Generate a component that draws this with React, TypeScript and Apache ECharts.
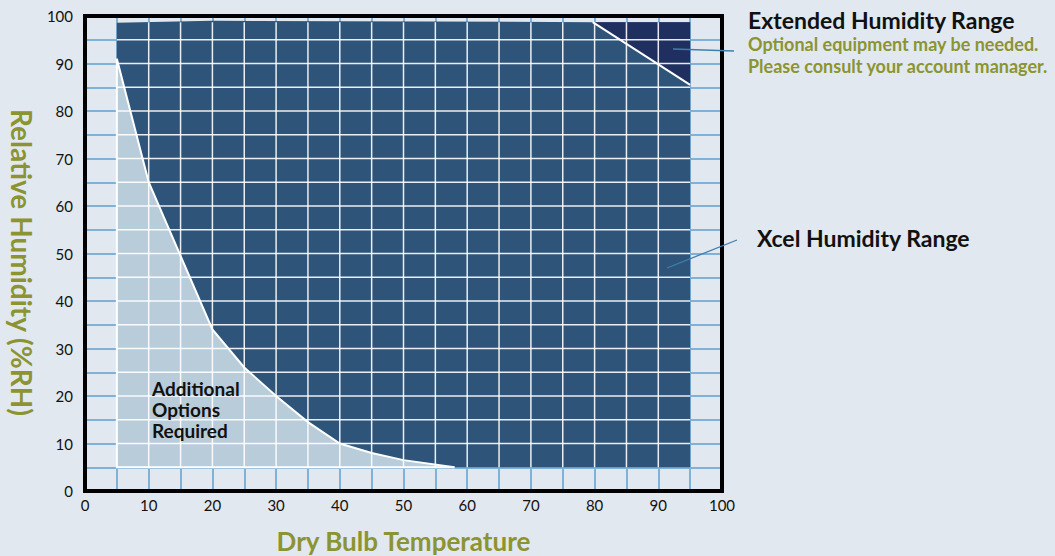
import React, { useEffect, useRef } from "react";
import * as echarts from "echarts";

// Boundary between the Xcel range and the "Additional Options Required" area
const boundaryCurve: number[][] = [
  [5, 91], [10, 65], [15, 49.5], [20, 34], [25, 26], [30, 20],
  [35, 14.5], [40, 10], [45, 8], [50, 6.5], [58, 5],
];
// Top edge of the Xcel humidity range
const topEdge: number[][] = [[5, 98.6], [20, 99], [80, 98.7], [95, 98.7]];
const bottomRight: number[][] = [[95, 5]];
const lightCorner: number[][] = [[5, 5]];
// Extended humidity range triangle
const extendedRegion: number[][] = [[79.7, 98.7], [95, 98.7], [95, 85.5]];
// Inner grid lines
const innerXs = [10, 15, 20, 25, 30, 35, 40, 45, 50, 55, 60, 65, 70, 75, 80, 85, 90];
const innerYs = [10, 15, 20, 25, 30, 35, 40, 45, 50, 55, 60, 65, 70, 75, 80, 85, 90, 95];
const innerXRange = [5, 95];
const innerYRange = [5, 98.7];

const xcelRegion = [...topEdge, ...bottomRight, ...boundaryCurve.slice().reverse()];
const lightRegion = [...lightCorner, ...boundaryCurve];

const BG = "#e1e8ef";
const OLIVE = "#8c9432";
const FONT = "Lato, 'Open Sans', sans-serif";

function polygonSeries(points: number[][], color: string, z: number) {
  return {
    type: "custom",
    coordinateSystem: "cartesian2d",
    clip: false,
    z,
    silent: true,
    data: [[0, 0]],
    renderItem: (_p: any, api: any) => ({
      type: "polygon",
      shape: { points: points.map((pt) => api.coord(pt)) },
      style: { fill: color },
    }),
  };
}

export default function App() {
  const ref = useRef<HTMLDivElement>(null);
  useEffect(() => {
    document.body.style.margin = "0";
    document.body.style.background = BG;
    const chart = echarts.init(ref.current!, undefined, { renderer: "svg" });
    chart.setOption({
      animation: false,
      backgroundColor: BG,
      grid: {
        left: 85, right: 333, top: 16, bottom: 65,
        outerBoundsMode: "none",
        containLabel: false,
        show: true, borderColor: "#000", borderWidth: 4, backgroundColor: "transparent",
        z: 10,
      },
      xAxis: {
        type: "value", min: 0, max: 100, interval: 5,
        name: "Dry Bulb Temperature", nameLocation: "middle", nameGap: 37,
        nameTextStyle: { color: OLIVE, fontSize: 26, fontWeight: "bold", fontFamily: FONT },
        axisLine: { show: true, onZero: false, lineStyle: { color: "#000", width: 4 } },
        axisTick: { show: false },
        axisLabel: {
          color: "#111", fontSize: 15, fontFamily: FONT, margin: 6,
          formatter: (v: number) => (v % 10 === 0 ? String(v) : ""),
        },
        splitLine: { show: true, lineStyle: { color: "#7fb2d6", width: 2 } },
        z: 1,
      },
      yAxis: {
        type: "value", min: 0, max: 100, interval: 5,
        name: "Relative Humidity (%RH)", nameLocation: "middle", nameGap: 49, nameRotate: -90,
        nameTextStyle: { color: OLIVE, fontSize: 28, fontWeight: "bold", fontFamily: FONT, padding: [0, 0, 0, 18] },
        axisLine: { show: true, onZero: false, lineStyle: { color: "#000", width: 4 } },
        axisTick: { show: false },
        axisLabel: {
          color: "#111", fontSize: 15, fontFamily: FONT, margin: 12,
          formatter: (v: number) => (v % 10 === 0 ? String(v) : ""),
        },
        splitLine: { show: true, lineStyle: { color: "#7fb2d6", width: 2 } },
        z: 1,
      },
      series: [
        polygonSeries(xcelRegion, "#2f5479", 2),
        polygonSeries(lightRegion, "#b8ccd9", 3),
        polygonSeries(extendedRegion, "#1f2f5f", 3),
        {
          type: "custom",
          coordinateSystem: "cartesian2d",
          clip: false,
          z: 4,
          silent: true,
          data: [[0, 0]],
          renderItem: (_p: any, api: any) => {
            const children: any[] = [];
            const st = { stroke: "rgba(255,255,255,0.9)", lineWidth: 1.5 };
            innerXs.forEach((x) => {
              const a = api.coord([x, innerYRange[0]]);
              const b = api.coord([x, innerYRange[1]]);
              children.push({ type: "line", shape: { x1: a[0], y1: a[1], x2: b[0], y2: b[1] }, style: st });
            });
            innerYs.forEach((y) => {
              const a = api.coord([innerXRange[0], y]);
              const b = api.coord([innerXRange[1], y]);
              children.push({ type: "line", shape: { x1: a[0], y1: a[1], x2: b[0], y2: b[1] }, style: st });
            });
            const ws = { stroke: "#ffffff", lineWidth: 2, fill: "none" };
            children.push({
              type: "polyline",
              shape: { points: boundaryCurve.map((p) => api.coord(p)) },
              style: ws,
            });
            children.push({
              type: "polyline",
              shape: {
                points: [boundaryCurve[0], lightCorner[0], boundaryCurve[boundaryCurve.length - 1]].map((p) => api.coord(p)),
              },
              style: ws,
            });
            children.push({
              type: "polyline",
              shape: { points: [extendedRegion[0], extendedRegion[2]].map((p) => api.coord(p)) },
              style: ws,
            });
            return { type: "group", children };
          },
        },
      ],
      graphic: [
        { type: "line", z: 20, shape: { x1: 673, y1: 49, x2: 734, y2: 51 }, style: { stroke: "#3f7fb0", lineWidth: 1.3 } },
        { type: "line", z: 20, shape: { x1: 667, y1: 268, x2: 737, y2: 240 }, style: { stroke: "#3f7fb0", lineWidth: 1.3 } },
        { type: "text", z: 20, left: 748, top: 8, style: { text: "Extended Humidity Range", fill: "#111", font: `bold 23px ${FONT}` } },
        { type: "text", z: 20, left: 748, top: 35, style: { text: "Optional equipment may be needed.", fill: OLIVE, font: `bold 18px ${FONT}` } },
        { type: "text", z: 20, left: 748, top: 57, style: { text: "Please consult your account manager.", fill: OLIVE, font: `bold 18px ${FONT}` } },
        { type: "text", z: 20, left: 757, top: 226, style: { text: "Xcel Humidity Range", fill: "#111", font: `bold 23px ${FONT}` } },
        {
          type: "text", z: 20, left: 152, top: 378,
          style: { text: "Additional\nOptions\nRequired", fill: "#111", font: `bold 19px ${FONT}`, lineHeight: 21 },
        },
      ],
    });
    return () => chart.dispose();
  }, []);
  return <div ref={ref} style={{ position: "fixed", left: 0, top: 0, width: 1055, height: 556 }} />;
}
